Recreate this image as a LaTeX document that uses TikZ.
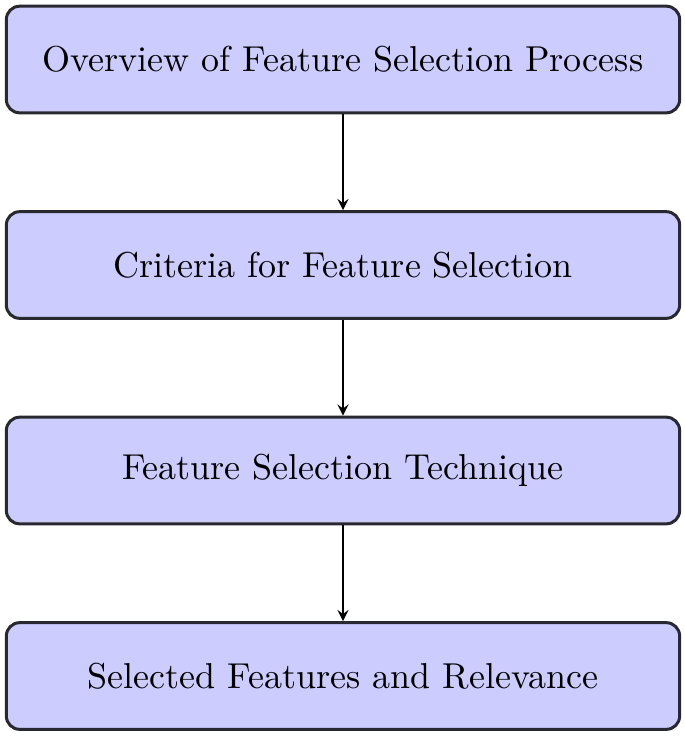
\documentclass[tikz,border=0pt]{standalone}
\usepackage{tikz}
\usetikzlibrary{shapes,arrows,positioning}
\definecolor{fsFill}{RGB}{204,204,255}
\definecolor{fsBorder}{RGB}{40,40,48}

\begin{document}
\begin{tikzpicture}[node distance=28.75pt, font=\fontsize{10.8}{13}\selectfont]
    \useasboundingbox (0,0) rectangle (205.5pt,-220.8pt);
    \tikzset{stagebox/.style={draw=fsBorder, line width=0.9pt, rounded corners=4pt, fill=fsFill, minimum width=202pt, minimum height=32pt, align=center}}

    % Stages of the process
    \node[stagebox] at (102.9pt,-17.85pt) (overview) {Overview of Feature Selection Process};
    \node[stagebox, below=of overview] (criteria) {Criteria for Feature Selection};
    \node[stagebox, below=of criteria] (technique) {Feature Selection Technique};
    \node[stagebox, below=of technique] (selected) {Selected Features and Relevance};

    % Arrows
    \draw[-stealth, line width=0.5pt] (overview) -- (criteria);
    \draw[-stealth, line width=0.5pt] (criteria) -- (technique);
    \draw[-stealth, line width=0.5pt] (technique) -- (selected);
\end{tikzpicture}
\end{document}
